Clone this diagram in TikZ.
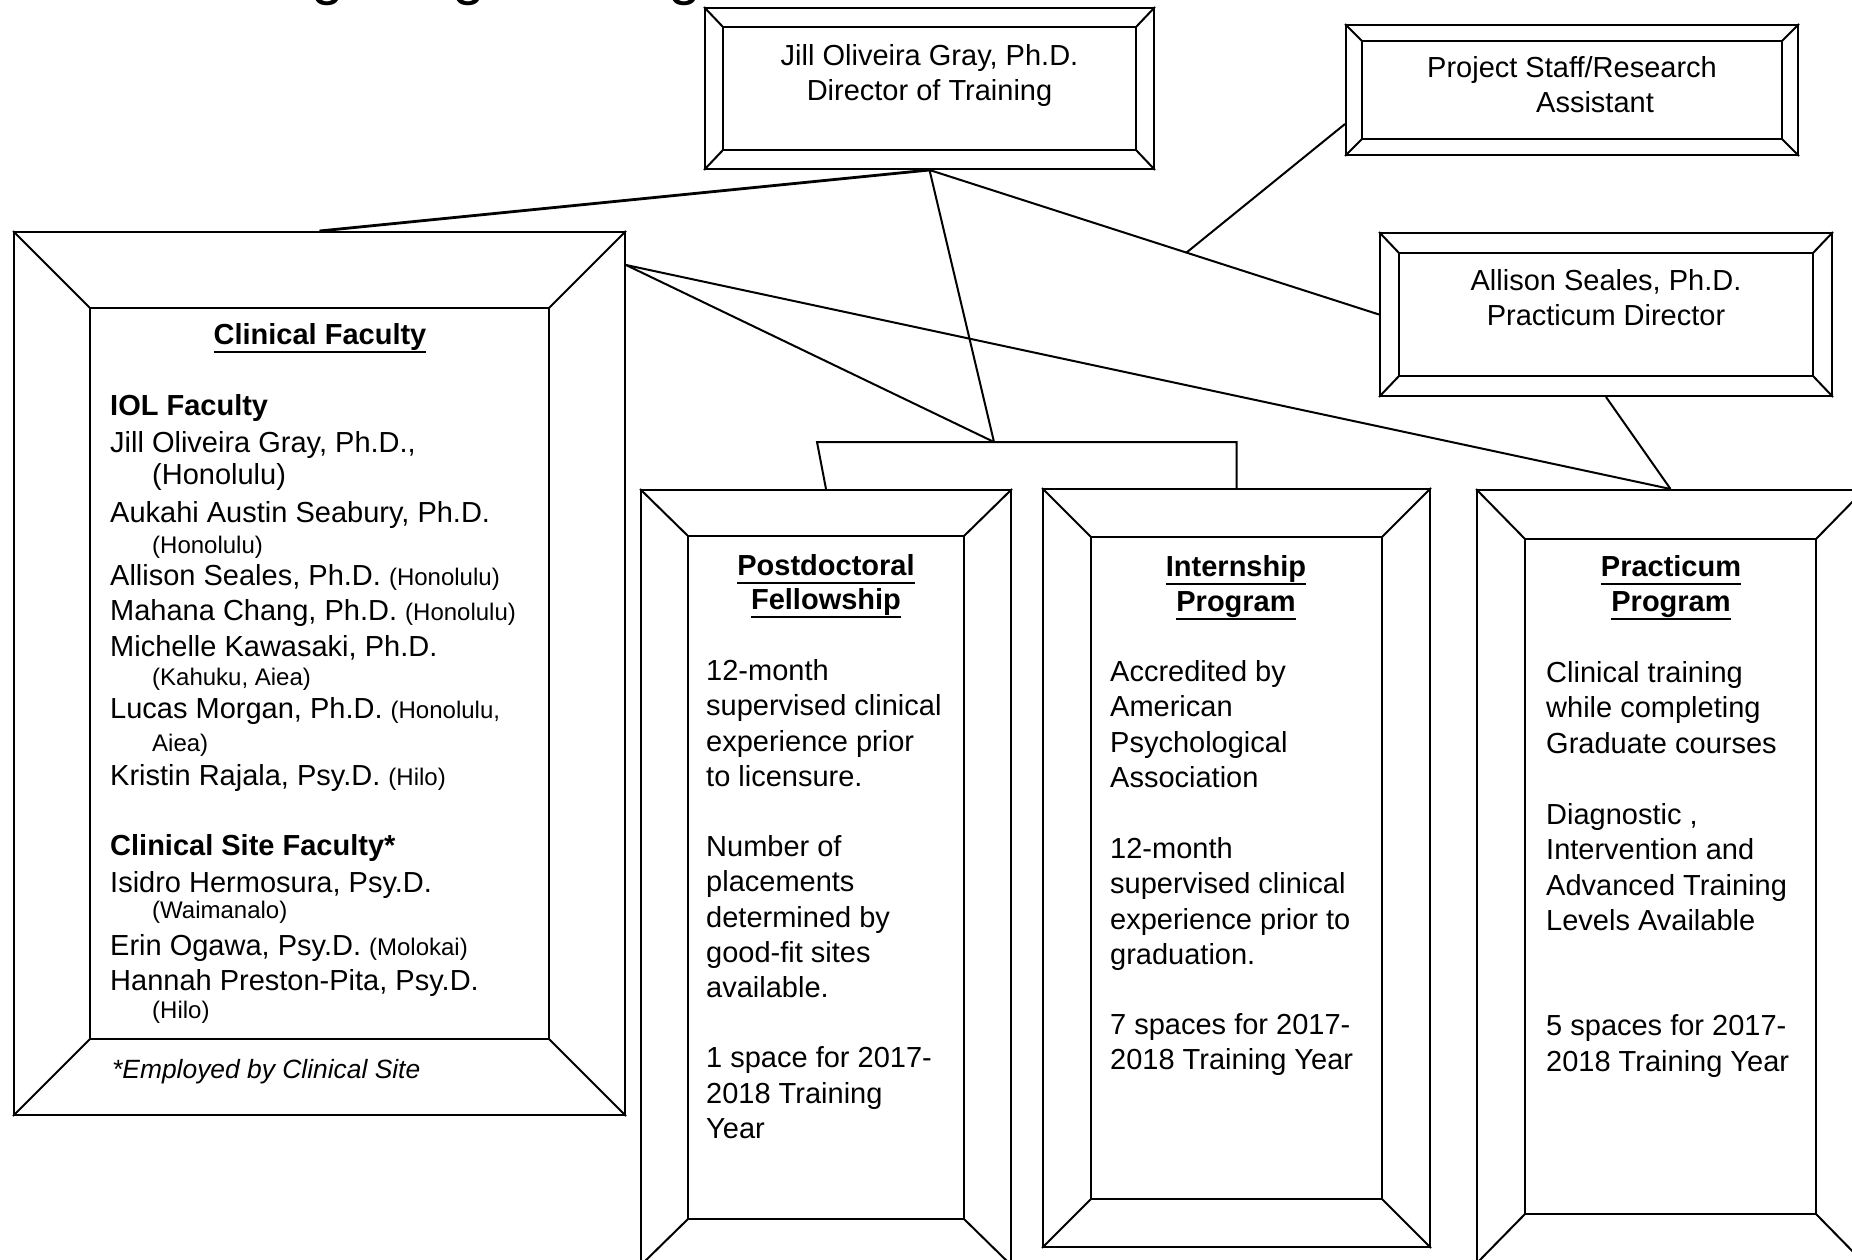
\documentclass[tikz,border=0pt]{standalone}
\usepackage{fontspec}
\setmainfont{Liberation Sans}
\usetikzlibrary{calc}
\newcommand\fsn{\fontsize{29}{35}\selectfont}
\newcommand\fss{\fontsize{24}{29}\selectfont}
\newcommand\fsi{\fontsize{26.4}{31}\selectfont\itshape}
\newcommand\myul[1]{\setbox0=\hbox{#1}\rlap{\rule[-8.5pt]{\wd0}{2pt}}\box0}
\tikzset{
  txt/.style={inner sep=0pt, anchor=base west, font=\fsn},
  ctr/.style={inner sep=0pt, anchor=base, font=\fsn},
  frame/.style={draw, line width=2pt, inner sep=0pt, fill=white},
  bev/.style={line width=2pt},
  link/.style={line width=2pt},
}
% \bevelbox{name}{x1}{y1}{x2}{y2}{bx}{by}
\newcommand\bevelbox[7]{%
  \node[frame, minimum width={(#4-#2)*1pt}, minimum height={(#5-#3)*1pt}] (#1) at ({(#2+#4)/2},{(#3+#5)/2}) {};
  \draw[bev] ($(#1.north west)+(#6,#7)$) rectangle ($(#1.south east)+(-#6,-#7)$);
  \draw[bev] (#1.north west) -- +(#6,#7) (#1.north east) -- +(-#6,#7)
             (#1.south west) -- +(#6,-#7) (#1.south east) -- +(-#6,-#7);
}
\begin{document}
\begin{tikzpicture}[x=1pt,y=-1pt]
\path[use as bounding box, clip] (0,0) rectangle (1852,1260);
\fill[white] (0,0) rectangle (1852,1260);

% cut-off title
\node[inner sep=0pt, anchor=base west, font=\fontsize{59}{70}\selectfont] (title) at (133,-6) {Training Program Organizational};

% boxes
\bevelbox{dir}{705}{8}{1154}{169}{19}{20}
\bevelbox{proj}{1346}{25}{1798}{155}{17}{17}
\bevelbox{allison}{1380}{233}{1832}{396}{20}{21}
\bevelbox{clin}{14}{232}{625}{1115}{77}{77}
\bevelbox{postdoc}{641}{490}{1011}{1265}{48}{47}
\bevelbox{intern}{1043}{489}{1430}{1247}{49}{49}
\bevelbox{pract}{1477}{490}{1864}{1263}{49}{50}

% connectors
\coordinate (J) at (994,442);
\coordinate (bl) at (817,442);
\coordinate (br) at (intern.north |- bl);
\coordinate (cfr) at ($(clin.north east)+(0,34)$);
\coordinate (pjs) at ($(proj.south west)+(0,-32)$);
\coordinate (pje) at ($(dir.south)!0.5716!(allison.west)$);
\draw[link, line width=2.8pt] (dir.south) -- (clin.north);
\draw[link] (dir.south) -- (J);
\draw[link] (dir.south) -- (allison.west);
\draw[link] (pjs) -- (pje);
\draw[link] (cfr) -- (J);
\draw[link] (cfr) -- (pract.north);
\draw[link] (allison.south) -- (pract.north);
\draw[link] (postdoc.north) -- (bl) -- (br) -- (intern.north);

% top boxes text
\node[ctr] (dir1) at (929.5,66) {Jill Oliveira Gray, Ph.D.};
\node[ctr] (dir2) at (929.5,101) {Director of Training};
\node[ctr] (proj1) at (1572,78) {Project Staff/Research};
\node[ctr] (proj2) at (1595,113) {Assistant};
\node[ctr] (all1) at (1606,290) {Allison Seales, Ph.D.};
\node[ctr] (all2) at (1606,325) {Practicum Director};

% clinical faculty
\node[ctr] (cf0) at (320,344) {\myul{\bfseries Clinical Faculty}};
\node[txt] (cf1) at (110,415) {\bfseries IOL Faculty};
\node[txt] (cf2) at (110,452) {Jill Oliveira Gray, Ph.D.,};
\node[txt] (cf3) at (152,484) {(Honolulu)};
\node[txt] (cf4) at (110,522) {Aukahi Austin Seabury, Ph.D.};
\node[txt] (cf5) at (152,553) {\fss (Honolulu)};
\node[txt] (cf6) at (110,585) {Allison Seales, Ph.D. {\fss (Honolulu)}};
\node[txt] (cf7) at (110,620) {Mahana Chang, Ph.D. {\fss (Honolulu)}};
\node[txt] (cf8) at (110,656) {Michelle Kawasaki, Ph.D.};
\node[txt] (cf9) at (152,685) {\fss (Kahuku, Aiea)};
\node[txt] (cf10) at (110,718) {Lucas Morgan, Ph.D. {\fss (Honolulu,}};
\node[txt] (cf11) at (152,751) {\fss Aiea)};
\node[txt] (cf12) at (110,785) {Kristin Rajala, Psy.D. {\fss (Hilo)}};
\node[txt] (cf13) at (110,855) {\bfseries Clinical Site Faculty*};
\node[txt] (cf14) at (110,892) {Isidro Hermosura, Psy.D.};
\node[txt] (cf15) at (152,918) {\fss (Waimanalo)};
\node[txt] (cf16) at (110,955) {Erin Ogawa, Psy.D. {\fss (Molokai)}};
\node[txt] (cf17) at (110,990) {Hannah Preston-Pita, Psy.D.};
\node[txt] (cf18) at (152,1018) {\fss (Hilo)};
\node[txt, font=\fsi] (cf19) at (112,1078) {*Employed by Clinical Site};

% postdoctoral
\node[ctr] (pd0) at (826,575) {\myul{\bfseries Postdoctoral}};
\node[ctr] (pd1) at (826,609) {\myul{\bfseries Fellowship}};
\node[txt] (pd2) at (706,680) {12-month};
\node[txt] (pd3) at (706,715) {supervised clinical};
\node[txt] (pd4) at (706,751) {experience prior};
\node[txt] (pd5) at (706,786) {to licensure.};
\node[txt] (pd6) at (706,856) {Number of};
\node[txt] (pd7) at (706,891) {placements};
\node[txt] (pd8) at (706,927) {determined by};
\node[txt] (pd9) at (706,962) {good-fit sites};
\node[txt] (pd10) at (706,997) {available.};
\node[txt] (pd11) at (706,1067) {1 space for 2017-};
\node[txt] (pd12) at (706,1103) {2018 Training};
\node[txt] (pd13) at (706,1138) {Year};

% internship
\node[ctr] (in0) at (1236,576) {\myul{\bfseries Internship}};
\node[ctr] (in1) at (1236,611) {\myul{\bfseries Program}};
\node[txt] (in2) at (1110,681) {Accredited by};
\node[txt] (in3) at (1110,716) {American};
\node[txt] (in4) at (1110,752) {Psychological};
\node[txt] (in5) at (1110,787) {Association};
\node[txt] (in6) at (1110,858) {12-month};
\node[txt] (in7) at (1110,893) {supervised clinical};
\node[txt] (in8) at (1110,929) {experience prior to};
\node[txt] (in9) at (1110,964) {graduation.};
\node[txt] (in10) at (1110,1034) {7 spaces for 2017-};
\node[txt] (in11) at (1110,1069) {2018 Training Year};

% practicum
\node[ctr] (pr0) at (1671,576) {\myul{\bfseries Practicum}};
\node[ctr] (pr1) at (1671,611) {\myul{\bfseries Program}};
\node[txt] (pr2) at (1546,682) {Clinical training};
\node[txt] (pr3) at (1546,717) {while completing};
\node[txt] (pr4) at (1546,753) {Graduate courses};
\node[txt] (pr5) at (1546,824) {Diagnostic ,};
\node[txt] (pr6) at (1546,859) {Intervention and};
\node[txt] (pr7) at (1546,895) {Advanced Training};
\node[txt] (pr8) at (1546,930) {Levels Available};
\node[txt] (pr9) at (1546,1035) {5 spaces for 2017-};
\node[txt] (pr10) at (1546,1071) {2018 Training Year};
\end{tikzpicture}
\end{document}
